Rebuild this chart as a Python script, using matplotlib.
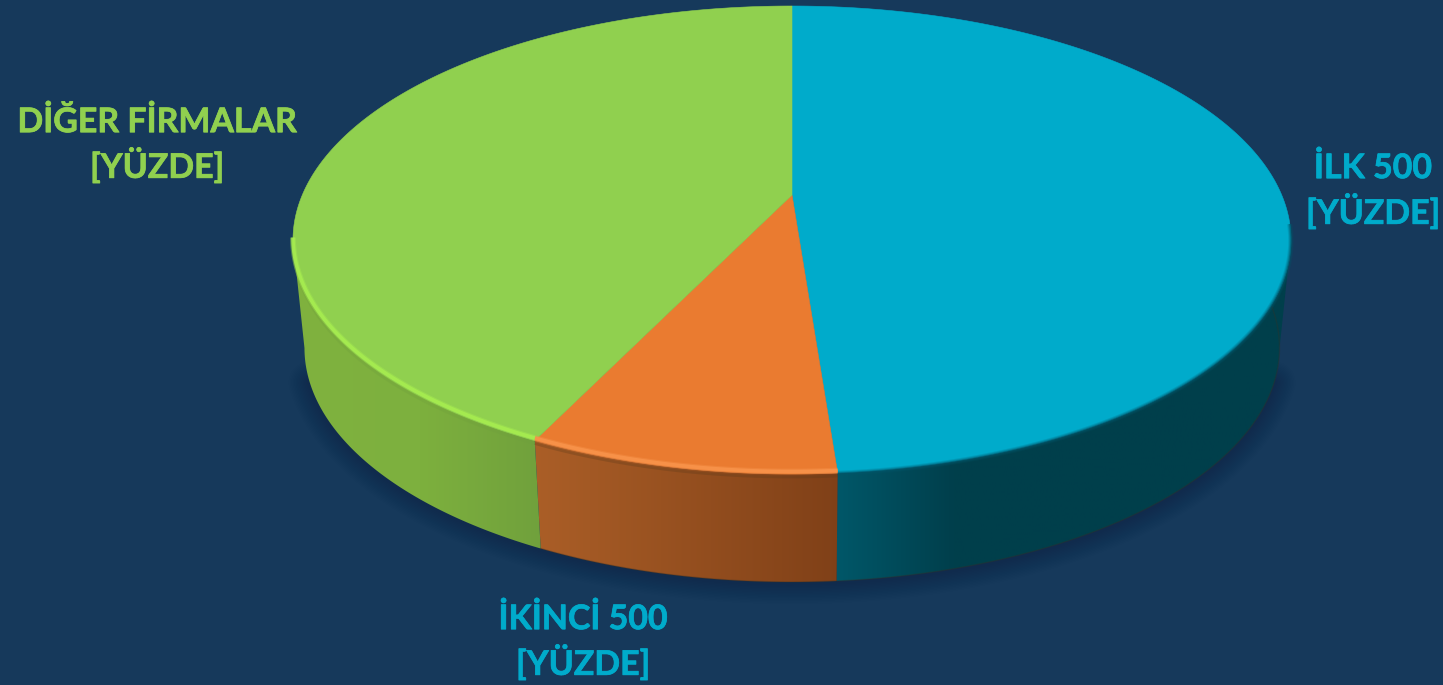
import numpy as np
import matplotlib
matplotlib.use("Agg")
import matplotlib.pyplot as plt
import matplotlib.patheffects as pe
from matplotlib.colors import LinearSegmentedColormap
from matplotlib.patches import Polygon

categories = ["İLK 500", "İKİNCİ 500", "DİĞER FİRMALAR"]
values = [48.8, 8.35, 42.85]
top_colors = ["#00abcb", "#ea7b30", "#90d04f"]
rim_colors = [None, "#f8934a", "#a6ec50"]
side_stops = [
    [(838, "#005a6c"), (960, "#003f4c"), (1290, "#003f4b")],
    [(534, "#ad6028"), (838, "#7e3f17")],
    [(300, "#80b23f"), (420, "#7db03e"), (540, "#6f9f3c")],
]
label_texts = ["İLK 500\n[YÜZDE]", "İKİNCİ 500\n[YÜZDE]", "DİĞER FİRMALAR\n[YÜZDE]"]
label_pos = [(1373, 191), (583, 642), (157, 145)]
label_colors = ["#00abcb", "#00abcb", "#90d04f"]

BG = "#16395b"
XC, AX = 792.0, 489.7
YC, BY, P = 195.0, -187.85, 0.1923
DEPTH, SHRINK = 108.0, 0.977


def top_xy(theta):
    t = np.radians(theta)
    u, v = np.sin(t), np.cos(t)
    w = 1 + P * v
    return XC + AX * u / w, (YC + BY * v) / w


def low_xy(theta):
    x, y = top_xy(theta)
    return XC + (x - XC) * SHRINK, y + DEPTH


fig = plt.figure(figsize=(14.43, 6.85), dpi=100, facecolor=BG)
ax = fig.add_axes([0, 0, 1, 1])
ax.set_xlim(0, 1443)
ax.set_ylim(685, 0)
ax.axis("off")
ax.set_facecolor(BG)

edges = np.concatenate([[0], np.cumsum(values)]) / sum(values) * 360
vis_lo, vis_hi = 101.1, 258.9

# soft shadow below the body
front = np.linspace(vis_lo + 8, vis_hi - 8, 200)
sx, sy = low_xy(front)
for lw in np.linspace(30, 3, 14):
    ax.plot(sx, sy + 1, color="#10253f", lw=lw, alpha=0.035,
            solid_capstyle="round", zorder=1)

# side walls with horizontal gradients
for i, stops in enumerate(side_stops):
    a0, a1 = max(edges[i], vis_lo), min(edges[i + 1], vis_hi)
    th = np.linspace(a0, a1, 120)
    tx, ty = top_xy(th)
    lx, ly = low_xy(th)
    poly = Polygon(np.column_stack([np.r_[tx, lx[::-1]], np.r_[ty, ly[::-1]]]),
                   closed=True, transform=ax.transData, fc="none", ec="none")
    ax.add_patch(poly)
    xs = [s[0] for s in stops]
    x0, x1 = xs[0], xs[-1]
    cmap = LinearSegmentedColormap.from_list(
        f"side{i}", [((s[0] - x0) / (x1 - x0), s[1]) for s in stops])
    im = ax.imshow(np.linspace(0, 1, 256)[None, :], cmap=cmap, aspect="auto",
                   extent=[x0 - 15, x1 + 15, 600, 200], zorder=2,
                   interpolation="bilinear")
    im.set_clip_path(poly)
ax.set_xlim(0, 1443)
ax.set_ylim(685, 0)

# dark edge on the lower rim of the orange and blue walls
th = np.linspace(edges[0] + 40, edges[2], 120)
ax.plot(*low_xy(th), color="#3a3020", lw=1.0, alpha=0.3, zorder=3)

# top wedges
apex = (XC, YC)
for i, c in enumerate(top_colors):
    th = np.linspace(edges[i], edges[i + 1], 240)
    x, y = top_xy(th)
    ax.fill(np.r_[apex[0], x], np.r_[apex[1], y], fc=c, ec=c, lw=0.4, zorder=4)

# rim highlights
for i, c in enumerate(rim_colors):
    a0, a1 = edges[i], edges[i + 1]
    if c is None:
        th = np.linspace(vis_lo - 4, a1, 120)
        x, y = top_xy(th)
        for w, al in [(4.0, 0.18), (2.6, 0.3), (1.2, 0.5)]:
            ax.plot(x, y + 0.5, color="#00566a", lw=w, alpha=al, zorder=5,
                    solid_capstyle="butt")
        continue
    th = np.linspace(a0, min(a1, vis_hi), 120)
    x, y = top_xy(th)
    ax.plot(x, y + 3, color="#5d3a1a" if i == 1 else "#6f9f3c", lw=2.0,
            alpha=0.3, zorder=5, solid_capstyle="butt")
    ax.plot(x, y - 2.5, color=c, lw=4.2, alpha=0.4, zorder=5, solid_capstyle="butt")
    ax.plot(x, y - 2.5, color=c, lw=2.6, alpha=0.9, zorder=5, solid_capstyle="butt")

for txt, (x, y), c in zip(label_texts, label_pos, label_colors):
    ax.text(x, y, txt, color=c, fontsize=24.4, fontfamily="Lato",
            fontweight="bold", ha="center", va="center", linespacing=1.24,
            zorder=6, path_effects=[pe.withStroke(linewidth=0.5, foreground=c)])

fig.savefig("out.png", dpi=100, facecolor=BG)
